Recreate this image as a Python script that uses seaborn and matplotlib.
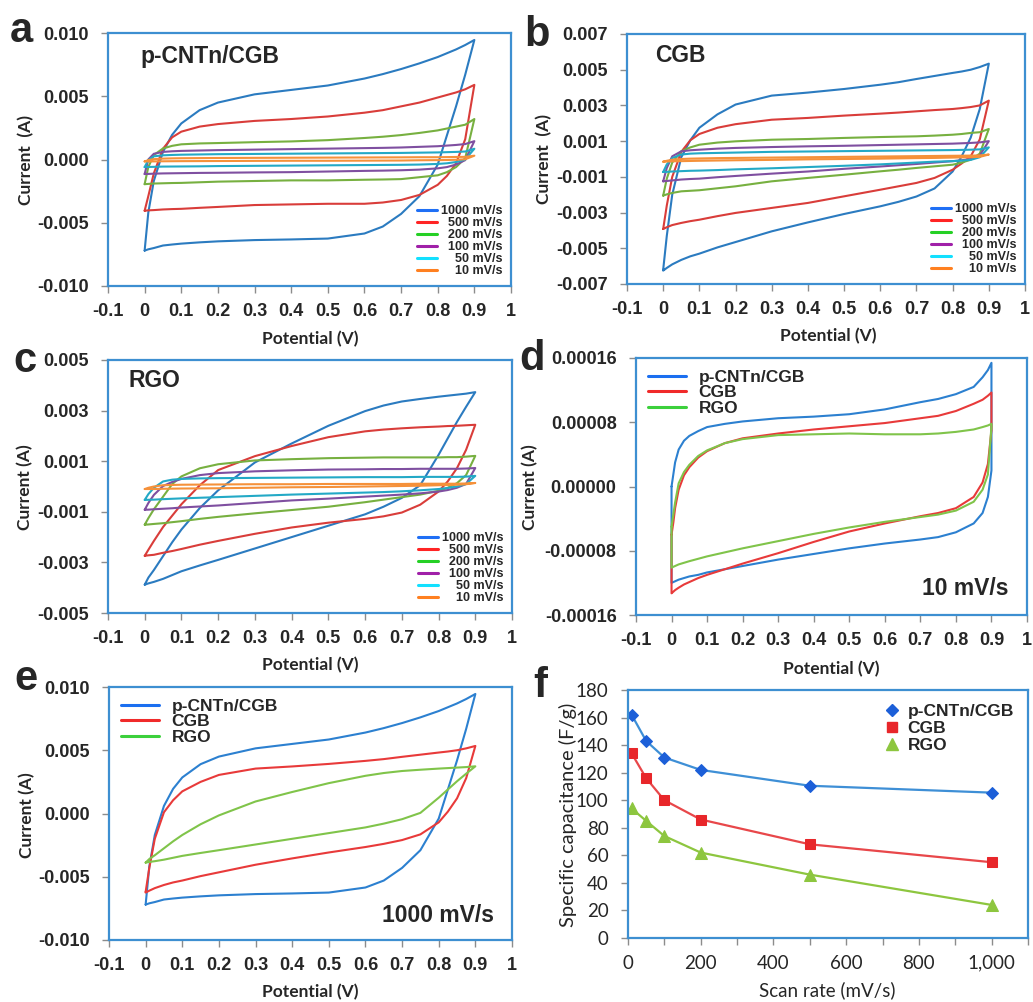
import numpy as np
import pandas as pd
import matplotlib
matplotlib.use('Agg')
import matplotlib.pyplot as plt
from matplotlib.lines import Line2D
import seaborn as sns

sns.set_style('white')
plt.rcParams['font.family'] = ['Liberation Sans', 'DejaVu Sans']

W, H = 1033, 1002
BOX = '#3d8fd1'
TICK = '#8c8c8c'

# potential grid (V) used by the loops of a, b, c, e
V_ABC = [0, 0.01, 0.025, 0.05, 0.075, 0.1, 0.15, 0.2, 0.3, 0.4, 0.5, 0.6, 0.65, 0.7, 0.75,
         0.8, 0.825, 0.85, 0.875, 0.9]
# grid for panel d
V_D = [0, 0.005, 0.01, 0.02, 0.035, 0.05, 0.075, 0.1, 0.15, 0.2, 0.3, 0.4, 0.5, 0.6, 0.7,
       0.75, 0.8, 0.85, 0.875, 0.89, 0.9]

# currents in mA: forward branch and reverse branch on the same grid
# a: p-CNTn/CGB
PC_1000_FWD = [-7.2, -4.2, -1.7, 0.6, 1.95, 2.85, 3.9, 4.5, 5.15, 5.5, 5.85, 6.4, 6.75, 7.15, 7.6, 8.1, 8.4, 8.7, 9.05, 9.45]
PC_1000_REV = [-7.2, -7.1, -7.0, -6.8, -6.72, -6.65, -6.55, -6.47, -6.37, -6.32, -6.25, -5.85, -5.3, -4.3, -2.9, -0.4, 1.9, 4.2, 6.7, 9.45]
PC_500_FWD = [-4.05, -2.9, -1.1, 0.85, 1.75, 2.2, 2.6, 2.8, 3.05, 3.2, 3.4, 3.7, 3.9, 4.2, 4.5, 4.9, 5.1, 5.3, 5.55, 5.9]
PC_500_REV = [-4.05, -4.02, -4.0, -3.95, -3.92, -3.9, -3.82, -3.75, -3.6, -3.55, -3.5, -3.5, -3.4, -3.2, -2.8, -2.0, -1.3, -0.3, 1.6, 5.9]
PC_200_FWD = [-1.95, -0.6, 0.35, 0.87, 1.08, 1.2, 1.27, 1.3, 1.37, 1.43, 1.53, 1.7, 1.8, 1.93, 2.1, 2.3, 2.45, 2.6, 2.75, 3.2]
PC_200_REV = [-1.95, -1.93, -1.9, -1.88, -1.86, -1.85, -1.8, -1.75, -1.7, -1.65, -1.65, -1.6, -1.58, -1.55, -1.4, -1.25, -1.0, -0.6, 0.1, 3.2]
PC_100_FWD = [-1.15, 0.0, 0.45, 0.6, 0.65, 0.68, 0.71, 0.74, 0.78, 0.82, 0.86, 0.9, 0.92, 0.95, 1.0, 1.05, 1.1, 1.15, 1.22, 1.45]
PC_100_REV = [-1.15, -1.14, -1.12, -1.1, -1.09, -1.08, -1.06, -1.05, -1.02, -1.0, -0.95, -0.9, -0.88, -0.85, -0.8, -0.7, -0.6, -0.4, -0.05, 1.45]
PC_50_FWD = [-0.6, -0.05, 0.25, 0.33, 0.36, 0.38, 0.4, 0.42, 0.44, 0.46, 0.48, 0.5, 0.51, 0.52, 0.54, 0.56, 0.58, 0.6, 0.63, 0.85]
PC_50_REV = [-0.6, -0.59, -0.58, -0.56, -0.555, -0.55, -0.54, -0.52, -0.5, -0.48, -0.46, -0.44, -0.43, -0.42, -0.4, -0.35, -0.3, -0.2, 0.0, 0.85]
PC_10_FWD = [-0.15, -0.05, 0.03, 0.07, 0.09, 0.1, 0.11, 0.12, 0.13, 0.14, 0.15, 0.16, 0.165, 0.17, 0.18, 0.18, 0.19, 0.2, 0.21, 0.3]
PC_10_REV = [-0.15, -0.15, -0.15, -0.14, -0.135, -0.13, -0.125, -0.12, -0.11, -0.1, -0.1, -0.09, -0.085, -0.08, -0.06, -0.05, -0.04, -0.02, 0.02, 0.3]

# b: CGB
CGB_1000_FWD = [-6.2, -4.3, -2.0, 0.1, 1.05, 1.75, 2.5, 3.05, 3.55, 3.72, 3.92, 4.16, 4.3, 4.48, 4.65, 4.82, 4.9, 5.0, 5.15, 5.34]
CGB_1000_REV = [-6.25, -6.1, -5.9, -5.65, -5.45, -5.3, -4.95, -4.65, -4.05, -3.55, -3.08, -2.65, -2.4, -2.1, -1.65, -0.7, 0.15, 1.2, 2.8, 5.34]
CGB_500_FWD = [-3.92, -2.6, -1.0, 0.4, 1.05, 1.4, 1.75, 1.95, 2.2, 2.3, 2.43, 2.54, 2.6, 2.67, 2.74, 2.8, 2.85, 2.91, 3.0, 3.27]
CGB_500_REV = [-3.92, -3.82, -3.7, -3.58, -3.48, -3.4, -3.2, -3.02, -2.74, -2.46, -2.09, -1.72, -1.53, -1.34, -1.06, -0.6, -0.25, 0.15, 1.1, 3.27]
CGB_200_FWD = [-2.05, -1.1, -0.2, 0.43, 0.65, 0.8, 0.92, 0.99, 1.08, 1.12, 1.18, 1.23, 1.25, 1.27, 1.31, 1.36, 1.4, 1.46, 1.5, 1.68]
CGB_200_REV = [-2.05, -1.98, -1.9, -1.81, -1.78, -1.75, -1.64, -1.53, -1.25, -1.06, -0.88, -0.69, -0.6, -0.5, -0.41, -0.32, -0.2, -0.04, 0.3, 1.68]
CGB_100_FWD = [-1.25, -0.5, 0.15, 0.43, 0.49, 0.52, 0.58, 0.62, 0.67, 0.71, 0.74, 0.78, 0.8, 0.82, 0.84, 0.86, 0.88, 0.9, 0.93, 1.0]
CGB_100_REV = [-1.25, -1.23, -1.2, -1.15, -1.12, -1.1, -1.02, -0.95, -0.82, -0.7, -0.55, -0.42, -0.35, -0.28, -0.2, -0.12, -0.07, 0.0, 0.2, 1.0]
CGB_50_FWD = [-0.73, -0.3, 0.05, 0.25, 0.3, 0.32, 0.34, 0.36, 0.4, 0.42, 0.44, 0.46, 0.47, 0.48, 0.49, 0.5, 0.51, 0.52, 0.54, 0.65]
CGB_50_REV = [-0.73, -0.72, -0.7, -0.68, -0.66, -0.65, -0.62, -0.58, -0.52, -0.45, -0.38, -0.3, -0.25, -0.2, -0.15, -0.12, -0.09, -0.05, 0.1, 0.65]
CGB_10_FWD = [-0.15, -0.1, -0.04, 0.0, 0.02, 0.03, 0.05, 0.06, 0.08, 0.1, 0.12, 0.14, 0.15, 0.16, 0.17, 0.18, 0.185, 0.19, 0.2, 0.25]
CGB_10_REV = [-0.15, -0.14, -0.13, -0.12, -0.11, -0.1, -0.085, -0.07, -0.05, -0.02, 0.0, 0.02, 0.035, 0.05, 0.06, 0.08, 0.09, 0.1, 0.12, 0.25]

# c: RGO
RGO_1000_FWD = [-3.88, -3.6, -3.3, -2.75, -2.2, -1.7, -0.85, -0.15, 0.95, 1.7, 2.4, 2.98, 3.2, 3.36, 3.46, 3.55, 3.59, 3.63, 3.67, 3.73]
RGO_1000_REV = [-3.88, -3.83, -3.77, -3.65, -3.5, -3.35, -3.12, -2.9, -2.45, -2.0, -1.55, -1.1, -0.8, -0.45, 0.05, 1.25, 1.9, 2.55, 3.15, 3.73]
RGO_500_FWD = [-2.74, -2.5, -2.15, -1.6, -1.15, -0.7, 0.05, 0.65, 1.2, 1.6, 1.95, 2.18, 2.25, 2.3, 2.34, 2.37, 2.39, 2.4, 2.42, 2.44]
RGO_500_REV = [-2.74, -2.72, -2.7, -2.62, -2.55, -2.47, -2.3, -2.15, -1.87, -1.62, -1.43, -1.28, -1.18, -1.03, -0.72, -0.2, 0.2, 0.72, 1.45, 2.44]
RGO_200_FWD = [-1.51, -1.25, -0.9, -0.4, 0.1, 0.4, 0.72, 0.88, 1.03, 1.08, 1.12, 1.14, 1.15, 1.15, 1.15, 1.15, 1.16, 1.16, 1.18, 1.21]
RGO_200_REV = [-1.51, -1.5, -1.48, -1.45, -1.41, -1.37, -1.28, -1.2, -1.06, -0.93, -0.8, -0.62, -0.52, -0.42, -0.32, -0.17, -0.05, 0.13, 0.45, 1.21]
RGO_100_FWD = [-0.92, -0.65, -0.33, 0.02, 0.18, 0.3, 0.45, 0.53, 0.6, 0.64, 0.67, 0.68, 0.69, 0.69, 0.7, 0.7, 0.7, 0.7, 0.71, 0.73]
RGO_100_REV = [-0.92, -0.915, -0.9, -0.88, -0.86, -0.83, -0.79, -0.75, -0.65, -0.55, -0.48, -0.4, -0.36, -0.32, -0.27, -0.2, -0.14, -0.05, 0.1, 0.73]
RGO_50_FWD = [-0.53, -0.3, -0.05, 0.2, 0.27, 0.3, 0.32, 0.33, 0.34, 0.35, 0.36, 0.37, 0.37, 0.37, 0.38, 0.38, 0.38, 0.38, 0.39, 0.42]
RGO_50_REV = [-0.53, -0.525, -0.52, -0.5, -0.485, -0.47, -0.445, -0.42, -0.37, -0.32, -0.28, -0.24, -0.22, -0.19, -0.15, -0.1, -0.06, 0.0, 0.1, 0.42]
RGO_10_FWD = [-0.1, -0.05, 0.0, 0.05, 0.06, 0.07, 0.075, 0.08, 0.09, 0.09, 0.1, 0.1, 0.1, 0.1, 0.11, 0.11, 0.11, 0.11, 0.12, 0.14]
RGO_10_REV = [-0.1, -0.1, -0.1, -0.09, -0.085, -0.08, -0.075, -0.07, -0.05, -0.03, -0.02, 0.0, 0.01, 0.02, 0.03, 0.05, 0.06, 0.07, 0.09, 0.14]

# d: the three electrodes at 10 mV/s (mA)
D_PC_FWD = [0.0, 0.015, 0.03, 0.046, 0.057, 0.063, 0.069, 0.074, 0.078, 0.081, 0.085, 0.087, 0.09, 0.096, 0.105, 0.109, 0.115, 0.124, 0.136, 0.145, 0.154]
D_PC_REV = [-0.12, -0.119, -0.118, -0.116, -0.114, -0.112, -0.11, -0.107, -0.103, -0.099, -0.091, -0.084, -0.077, -0.071, -0.066, -0.063, -0.057, -0.046, -0.033, -0.013, 0.02]
D_CGB_FWD = [-0.06, -0.045, -0.027, -0.004, 0.014, 0.024, 0.036, 0.044, 0.054, 0.06, 0.066, 0.071, 0.075, 0.079, 0.085, 0.088, 0.094, 0.103, 0.108, 0.113, 0.117]
D_CGB_REV = [-0.133, -0.131, -0.129, -0.126, -0.122, -0.119, -0.114, -0.11, -0.103, -0.096, -0.083, -0.069, -0.056, -0.046, -0.037, -0.033, -0.027, -0.013, 0.005, 0.028, 0.07]
D_RGO_FWD = [-0.05, -0.035, -0.02, 0.004, 0.018, 0.027, 0.038, 0.045, 0.054, 0.059, 0.064, 0.065, 0.066, 0.065, 0.065, 0.066, 0.068, 0.071, 0.074, 0.076, 0.078]
D_RGO_REV = [-0.101, -0.1, -0.099, -0.097, -0.095, -0.093, -0.09, -0.087, -0.082, -0.077, -0.068, -0.059, -0.051, -0.044, -0.038, -0.035, -0.03, -0.019, -0.004, 0.015, 0.075]

# f: specific capacitance vs scan rate
SCAN_RATE = [10, 50, 100, 200, 500, 1000]
CAP_PC = [162, 143, 131, 122, 110.5, 105.5]
CAP_CGB = [134, 116, 100, 86, 68, 55]
CAP_RGO = [94, 85, 74, 62, 46, 24]

RATE_LABELS = ['1000 mV/s', '  500 mV/s', '  200 mV/s', '  100 mV/s', '    50 mV/s', '    10 mV/s']
MATERIALS = ['p-CNTn/CGB', 'CGB', 'RGO']

LOOP_COLORS = ['#2b7bc0', '#d93d3a', '#77b040', '#7f4fa0', '#23a9c6', '#f5913a']
RATE_KEY_COLORS = ['#1f6ff5', '#ff2424', '#25d025', '#a020a8', '#12e0ff', '#ff8020']
MAT_COLORS = ['#2c80d0', '#e83a3a', '#80c44a']
MAT_KEY_COLORS = ['#1b6ff0', '#f02a2a', '#3cd03c']

fig = plt.figure(figsize=(W / 100, H / 100), dpi=100)


def px_axes(l, t, r, b):
    return fig.add_axes([l / W, 1 - b / H, (r - l) / W, (b - t) / H])


def ftext(x, y, s, **kw):
    fig.text(x / W, 1 - y / H, s, **kw)


def draw_loop(ax, v, fwd, rev, color):
    # forward scan, reverse scan, then back to the start
    xs = list(v) + list(v)[::-1] + [v[0]]
    ys = [i * 1e-3 for i in list(fwd) + list(rev)[::-1] + [fwd[0]]]
    sns.lineplot(x=xs, y=ys, sort=False, estimator=None, color=color, lw=1.5, ax=ax)


def frame(ax):
    for s in ax.spines.values():
        s.set_color(BOX)
        s.set_linewidth(1.6)
    ax.tick_params(axis='both', direction='out', length=5, width=1, color=TICK,
                   bottom=True, left=True, top=False, right=False)
    ax.tick_params(axis='x', pad=7)
    ax.tick_params(axis='y', pad=9)
    ax.set_xlabel('')
    ax.set_ylabel('')


def style_cv(ax, ylim, ystep, dec):
    ax.set_xlim(-0.1, 1)
    ax.set_ylim(-ylim, ylim)
    xt = np.round(np.arange(-0.1, 1.001, 0.1), 1) + 0.0
    ax.set_xticks(xt)
    ax.set_xticklabels([f'{t:g}' for t in xt], fontweight='bold', fontsize=13)
    yt = np.round(np.arange(-ylim, ylim + ystep / 2, ystep), 8) + 0.0
    ax.set_yticks(yt)
    ax.set_yticklabels([f'{t:.{dec}f}' for t in yt], fontweight='bold', fontsize=13)
    frame(ax)


def rate_legend(ax):
    hs = [Line2D([], [], color=c, lw=2.2) for c in RATE_KEY_COLORS]
    ax.legend(hs, RATE_LABELS, loc='lower right', frameon=False,
              prop={'weight': 'bold', 'size': 9}, handlelength=1.6,
              handletextpad=0.3, labelspacing=0.0, borderaxespad=0.3, borderpad=0.4)


def mat_legend(ax):
    hs = [Line2D([], [], color=c, lw=2.2) for c in MAT_KEY_COLORS]
    ax.legend(hs, MATERIALS, loc='upper left', frameon=False,
              prop={'weight': 'bold', 'size': 12.5}, handlelength=2.2,
              handletextpad=0.7, labelspacing=0.0, borderaxespad=0.3, borderpad=0.4)


cv_sets = [
    ((108, 33, 511, 286), 0.010, 0.005, 3,
     [(PC_1000_FWD, PC_1000_REV), (PC_500_FWD, PC_500_REV), (PC_200_FWD, PC_200_REV),
      (PC_100_FWD, PC_100_REV), (PC_50_FWD, PC_50_REV), (PC_10_FWD, PC_10_REV)]),
    ((627, 34, 1025, 284), 0.007, 0.002, 3,
     [(CGB_1000_FWD, CGB_1000_REV), (CGB_500_FWD, CGB_500_REV), (CGB_200_FWD, CGB_200_REV),
      (CGB_100_FWD, CGB_100_REV), (CGB_50_FWD, CGB_50_REV), (CGB_10_FWD, CGB_10_REV)]),
    ((108, 360, 512, 613), 0.005, 0.002, 3,
     [(RGO_1000_FWD, RGO_1000_REV), (RGO_500_FWD, RGO_500_REV), (RGO_200_FWD, RGO_200_REV),
      (RGO_100_FWD, RGO_100_REV), (RGO_50_FWD, RGO_50_REV), (RGO_10_FWD, RGO_10_REV)]),
]

for box, ylim, ystep, dec, loops in cv_sets:
    ax = px_axes(*box)
    for (fwd, rev), c in zip(loops, LOOP_COLORS):
        draw_loop(ax, V_ABC, fwd, rev, c)
    style_cv(ax, ylim, ystep, dec)
    rate_legend(ax)

# d
ax_d = px_axes(636, 358, 1027, 615)
for (fwd, rev), c in zip([(D_PC_FWD, D_PC_REV), (D_CGB_FWD, D_CGB_REV), (D_RGO_FWD, D_RGO_REV)], MAT_COLORS):
    draw_loop(ax_d, V_D, fwd, rev, c)
style_cv(ax_d, 0.00016, 0.00008, 5)
mat_legend(ax_d)

# e: the 1000 mV/s loops of a, b, c
ax_e = px_axes(109, 687, 512, 940)
for (fwd, rev), c in zip([(PC_1000_FWD, PC_1000_REV), (CGB_1000_FWD, CGB_1000_REV),
                          (RGO_1000_FWD, RGO_1000_REV)], MAT_COLORS):
    draw_loop(ax_e, V_ABC, fwd, rev, c)
style_cv(ax_e, 0.010, 0.005, 3)
mat_legend(ax_e)

# f
ax_f = px_axes(628, 690, 1028, 938)
caps = [CAP_PC, CAP_CGB, CAP_RGO]
f_lines = ['#3e8fd6', '#e8474a', '#8dc63f']
f_marks = ['#1c5fd8', '#e8262a', '#8dc63f']
f_shapes = ['D', 's', '^']
f_sizes = [6.5, 7, 8]
for cap, lc, mc, mk, ms in zip(caps, f_lines, f_marks, f_shapes, f_sizes):
    sns.lineplot(x=SCAN_RATE, y=cap, sort=False, estimator=None, color=lc, lw=1.6,
                 marker=mk, markersize=ms, markerfacecolor=mc, markeredgecolor=mc, ax=ax_f)
ax_f.set_xlim(0, 1100)
ax_f.set_ylim(0, 180)
xt = list(range(0, 1101, 100))
ax_f.set_xticks(xt)
ax_f.set_xticklabels([f'{t:,}' if t % 200 == 0 and t <= 1000 else '' for t in xt],
                     fontsize=13.5, family='Lato')
yt = list(range(0, 181, 20))
ax_f.set_yticks(yt)
ax_f.set_yticklabels([str(t) for t in yt], fontsize=13.5, family='Lato')
frame(ax_f)
hs = [Line2D([], [], ls='none', marker=mk, color=mc, markersize=ms)
      for mc, mk, ms in zip(f_marks, f_shapes, f_sizes)]
ax_f.legend(hs, MATERIALS, loc='upper right', frameon=False,
            prop={'weight': 'bold', 'size': 12.5}, handlelength=0.8,
            handletextpad=0.5, labelspacing=0.1, borderaxespad=0.4, borderpad=0.4)

# axis labels
lab = dict(family='Lato', fontweight='bold', fontsize=12.5, ha='center', va='center')
ftext(310, 339, 'Potential (V)', **lab)
ftext(828, 336, 'Potential (V)', **lab)
ftext(310, 665, 'Potential (V)', **lab)
ftext(831, 669, 'Potential (V)', **lab)
ftext(310, 992, 'Potential (V)', **lab)
ftext(26, 160, 'Current  (A)', rotation=90, **lab)
ftext(544, 159, 'Current  (A)', rotation=90, **lab)
ftext(25, 487, 'Current (A)', rotation=90, **lab)
ftext(530, 487, 'Current (A)', rotation=90, **lab)
ftext(27, 815, 'Current (A)', rotation=90, **lab)
ftext(568, 815, 'Specific capacitance (F/g)', rotation=90, family='Lato', fontsize=14.5,
      ha='center', va='center')
ftext(827, 990, 'Scan rate (mV/s)', family='Lato', fontsize=13.5, ha='center', va='center')

# panel letters and inner captions
letter = dict(fontsize=30, fontweight='bold', ha='left', va='baseline')
ftext(10, 42, 'a', **letter)
ftext(524, 46, 'b', **letter)
ftext(13, 372, 'c', **letter)
ftext(519, 370, 'd', **letter)
ftext(14, 690, 'e', **letter)
ftext(533, 697, 'f', **letter)

cap_kw = dict(fontsize=16.5, fontweight='bold', va='baseline')
ftext(140, 63, 'p-CNTn/CGB', ha='left', **cap_kw)
ftext(655, 62, 'CGB', ha='left', **cap_kw)
ftext(128, 387, 'RGO', ha='left', **cap_kw)
ftext(1009, 595, '10 mV/s', ha='right', **cap_kw)
ftext(494, 922, '1000 mV/s', ha='right', **cap_kw)

fig.savefig('out.png', dpi=100)
